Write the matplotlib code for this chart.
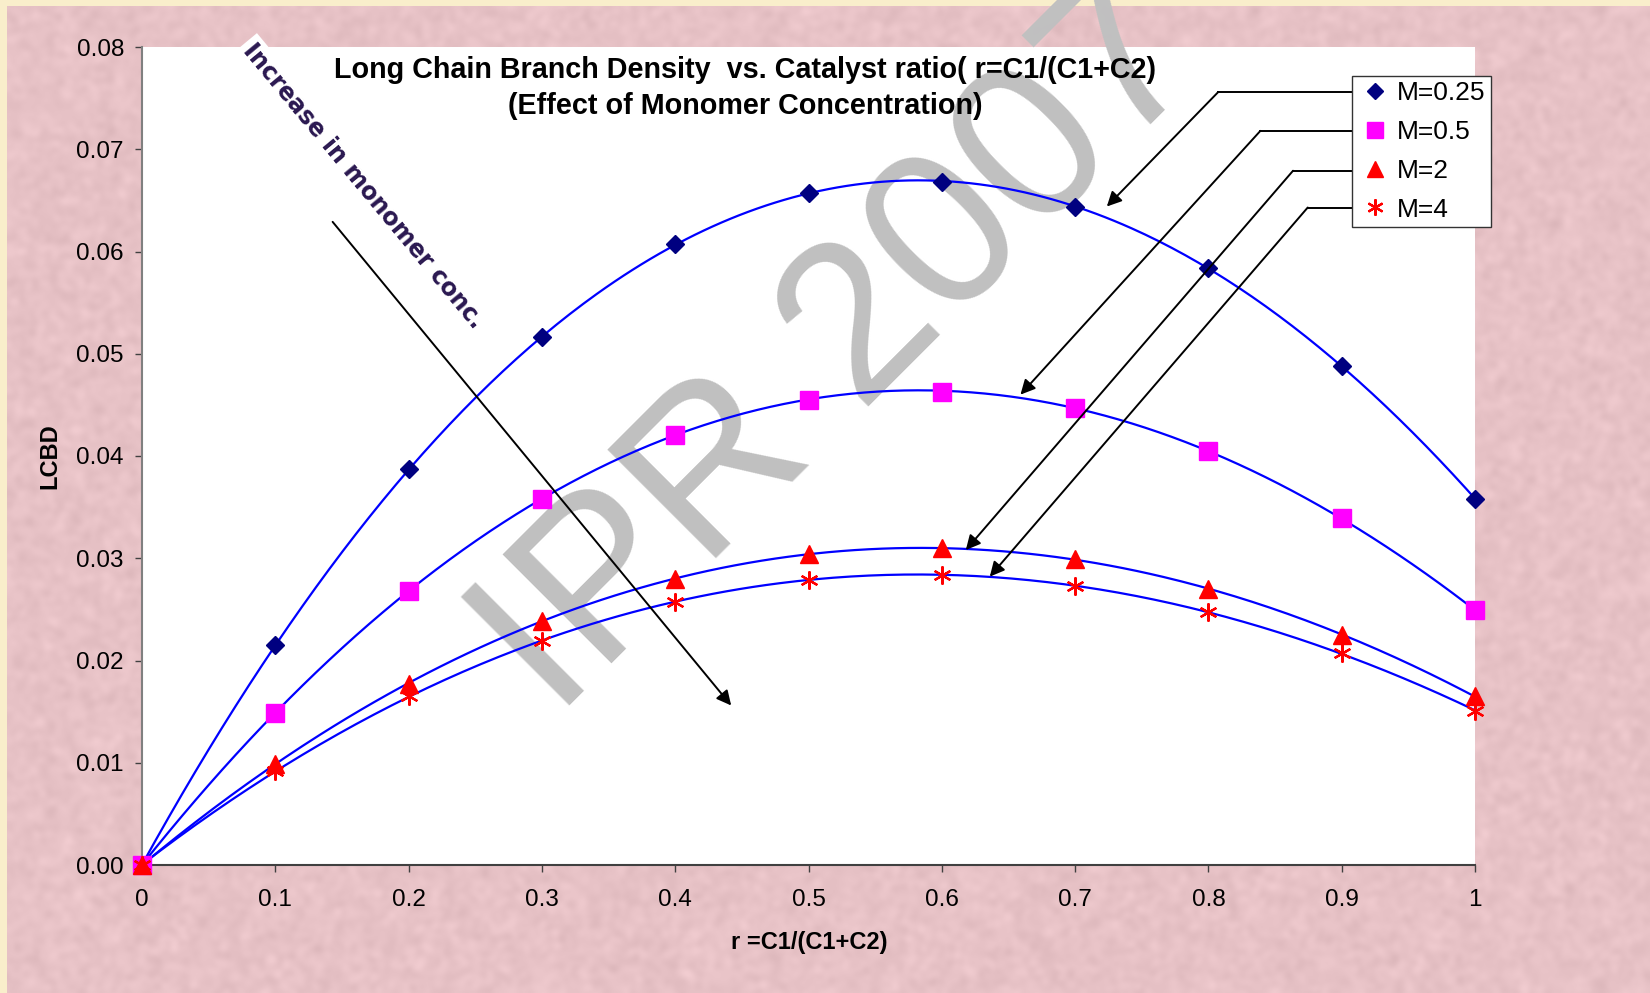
import numpy as np
import matplotlib.pyplot as plt

# catalyst ratio r = C1/(C1+C2)
r = [0, 0.1, 0.2, 0.3, 0.4, 0.5, 0.6, 0.7, 0.8, 0.9, 1.0]

# LCBD for each monomer concentration
lcbd_m025 = [0, 0.0215, 0.0387, 0.0516, 0.0607, 0.0657, 0.0668, 0.0644, 0.0584, 0.0488, 0.0358]
lcbd_m05 = [0, 0.0149, 0.0268, 0.0358, 0.0421, 0.0455, 0.0463, 0.0447, 0.0405, 0.0339, 0.0249]
lcbd_m2 = [0, 0.0099, 0.0177, 0.0239, 0.0280, 0.0304, 0.0310, 0.0299, 0.0270, 0.0225, 0.0165]
lcbd_m4 = [0, 0.0092, 0.0165, 0.0219, 0.0257, 0.0279, 0.0284, 0.0273, 0.0247, 0.0207, 0.0151]

labels = ['M=0.25', 'M=0.5', 'M=2', 'M=4']
x_ticks = [0, 0.1, 0.2, 0.3, 0.4, 0.5, 0.6, 0.7, 0.8, 0.9, 1.0]
x_ticklabels = ['0', '0.1', '0.2', '0.3', '0.4', '0.5', '0.6', '0.7', '0.8', '0.9', '1']
y_ticks = [0, 0.01, 0.02, 0.03, 0.04, 0.05, 0.06, 0.07, 0.08]

plt.rcParams['font.family'] = ['Liberation Sans', 'DejaVu Sans']

W, H = 1650, 993
fig = plt.figure(figsize=(W / 100, H / 100), dpi=100, facecolor='#f9eecb')

# pink paper texture behind everything
bg = fig.add_axes([7 / W, 0, 1 - 7 / W, 1 - 6 / H], zorder=-10)
rng = np.random.default_rng(3)
noise = rng.normal(size=(500, 820))
ky = np.fft.fftfreq(noise.shape[0])[:, None]
kx = np.fft.fftfreq(noise.shape[1])[None, :]
smooth = np.real(np.fft.ifft2(np.fft.fft2(noise) * np.exp(-(kx ** 2 + ky ** 2) * (2 * np.pi * 1.6) ** 2 / 2)))
smooth /= smooth.std()
base = np.array([231, 194, 198]) / 255.0
tex = np.clip(base[None, None, :] + smooth[:, :, None] * 0.011, 0, 1)
bg.imshow(tex, aspect='auto', interpolation='bicubic', extent=[0, 1, 0, 1])
bg.axis('off')

ax = fig.add_axes([142 / W, 1 - 865 / H, (1475 - 142) / W, (865 - 47) / H])
ax.set_facecolor('white')

# watermark
ax.text(883 / W, 1 - 392 / H, 'IPR 2007', transform=fig.transFigure, fontsize=160,
        color='#c0c0c0', rotation=45, rotation_mode='anchor', ha='center', va='baseline',
        zorder=0.5, clip_on=False)

series = [
    (lcbd_m025, dict(marker='D', ms=9.5, color='#000080')),
    (lcbd_m05, dict(marker='s', ms=12.5, color='#ff00ff')),
    (lcbd_m2, dict(marker='^', ms=13, color='#ff0000')),
    (lcbd_m4, dict(marker=(6, 2, 0), ms=13, color='#ff0000', mew=1.6)),
]

xs = np.linspace(0, 1, 300)
handles = []
for (vals, style), lab in zip(series, labels):
    # cubic trendline through each series
    coef = np.polyfit(r, vals, 3)
    ax.plot(xs, np.polyval(coef, xs), color='#0000ff', lw=1.6, zorder=2, clip_on=False)
    h, = ax.plot(r, vals, ls='none', mec=style['color'], mfc=style['color'], label=lab,
                 zorder=3, clip_on=False, **style)
    handles.append(h)

ax.set_xlim(0, 1)
ax.set_ylim(0, 0.08)
ax.set_xticks(x_ticks)
ax.set_xticklabels(x_ticklabels)
ax.set_yticks(y_ticks)
ax.set_yticklabels(['%.2f' % v for v in y_ticks])
ax.tick_params(direction='out', length=5, width=1, labelsize=17.5, color='#404040')
ax.tick_params(axis='x', pad=12)
ax.tick_params(axis='y', pad=8)
for s in ['top', 'right']:
    ax.spines[s].set_visible(False)
ax.spines['left'].set_color('#808080')
ax.spines['bottom'].set_color('#404040')
ax.spines['left'].set_linewidth(1.5)
ax.spines['bottom'].set_linewidth(1.5)

fig.text(809 / W, 1 - 942 / H, 'r =C1/(C1+C2)', fontsize=17, fontweight='bold', ha='center', va='center')
fig.text(50 / W, 1 - 456 / H, 'LCBD', fontsize=17, fontweight='bold', rotation=90, ha='center', va='center')

fig.text(745 / W, 1 - 70 / H, 'Long Chain Branch Density  vs. Catalyst ratio( r=C1/(C1+C2)',
         fontsize=20.7, fontweight='bold', ha='center', va='center', zorder=5)
fig.text(745 / W, 1 - 106 / H, '(Effect of Monomer Concentration)',
         fontsize=20.7, fontweight='bold', ha='center', va='center', zorder=5)

leg = ax.legend(handles=handles, loc='upper right', bbox_to_anchor=(1491 / W, 1 - 76 / H),
                bbox_transform=fig.transFigure, fontsize=19, frameon=True, fancybox=False,
                edgecolor='#333333', framealpha=1, borderpad=0.2, handletextpad=0.2,
                handlelength=1.3, labelspacing=0.56, borderaxespad=0, markerscale=0.9)
leg.get_frame().set_linewidth(1)
leg.set_zorder(6)

# leader arrows from the legend to each curve
leaders = [
    ((0.9125, 0.0756), (0.8074, 0.0756), (0.7238, 0.0644)),
    ((0.9125, 0.0718), (0.8390, 0.0718), (0.6590, 0.0460)),
    ((0.9125, 0.0679), (0.8635, 0.0679), (0.6180, 0.0308)),
    ((0.9125, 0.0643), (0.8745, 0.0643), (0.6360, 0.0282)),
]
for start, bend, tip in leaders:
    ax.plot([start[0], bend[0]], [start[1], bend[1]], color='black', lw=1.4, zorder=4, clip_on=False)
    ax.annotate('', xy=tip, xytext=bend, zorder=4,
                arrowprops=dict(arrowstyle='-|>', color='black', lw=1.4, mutation_scale=22,
                                shrinkA=0, shrinkB=0))

# trend arrow for increasing monomer concentration
ax.annotate('', xy=(0.442, 0.0156), xytext=(0.143, 0.0629), zorder=4,
            arrowprops=dict(arrowstyle='-|>', color='black', lw=1.4, mutation_scale=22,
                            shrinkA=0, shrinkB=0))
fig.text(363 / W, 1 - 186 / H, 'Increase in monomer conc.', family='DejaVu Sans', fontsize=17.2,
         fontweight='bold', color='#2a1850', rotation=-50.3, rotation_mode='anchor',
         ha='center', va='center', zorder=5,
         bbox=dict(facecolor='white', edgecolor='none', pad=3))

fig.savefig('out.png', dpi=100, facecolor=fig.get_facecolor())
